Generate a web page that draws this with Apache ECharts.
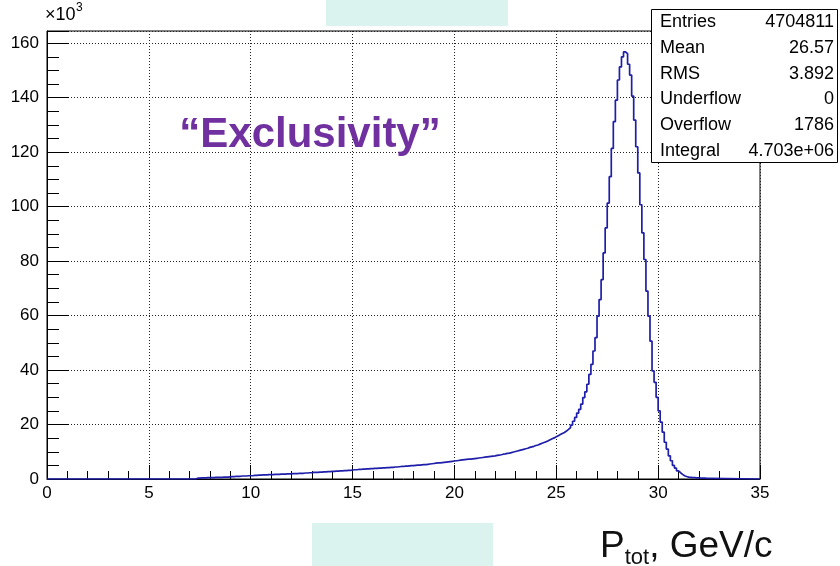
<!DOCTYPE html>
<html>
<head>
<meta charset="utf-8">
<script src="https://cdn.jsdelivr.net/npm/echarts@6/dist/echarts.min.js"></script>
<style>
  html, body { margin: 0; padding: 0; background: #fff; }
  #chart { width: 840px; height: 566px; }
</style>
</head>
<body>
<div id="chart"></div>
<script>
// histogram: bins of 0.1 GeV/c starting at binLow, counts in units of 10^3
const binLow = 7.3;
const binWidth = 0.1;
const counts = [
  0.3, 0.3, 0.4, 0.4, 0.4, 0.5, 0.5,                      // 7.3 - 7.9
  0.5, 0.5, 0.6, 0.6, 0.6, 0.6, 0.7, 0.7, 0.7, 0.8,       // 8
  0.9, 0.9, 1.0, 1.0, 1.0, 1.1, 1.1, 1.1, 1.2, 1.2,       // 9
  1.2, 1.3, 1.3, 1.4, 1.4, 1.5, 1.5, 1.5, 1.6, 1.6,       // 10
  1.6, 1.7, 1.7, 1.7, 1.8, 1.8, 1.8, 1.9, 1.9, 1.9,       // 11
  2.0, 2.0, 2.0, 2.1, 2.1, 2.1, 2.2, 2.2, 2.3, 2.3,       // 12
  2.4, 2.4, 2.4, 2.5, 2.5, 2.6, 2.6, 2.7, 2.7, 2.8,       // 13
  2.8, 2.9, 2.9, 3.0, 3.0, 3.1, 3.1, 3.2, 3.2, 3.3,       // 14
  3.4, 3.4, 3.5, 3.5, 3.6, 3.6, 3.7, 3.7, 3.8, 3.8,       // 15
  3.9, 3.9, 4.0, 4.0, 4.1, 4.1, 4.2, 4.2, 4.3, 4.3,       // 16
  4.4, 4.4, 4.5, 4.6, 4.6, 4.7, 4.7, 4.8, 4.9, 4.9,       // 17
  5.0, 5.1, 5.1, 5.2, 5.3, 5.3, 5.4, 5.5, 5.6, 5.7,       // 18
  5.8, 5.9, 5.9, 6.0, 6.1, 6.2, 6.3, 6.4, 6.5, 6.6,       // 19
  6.7, 6.8, 6.9, 7.0, 7.1, 7.2, 7.3, 7.3, 7.4, 7.5,       // 20
  7.6, 7.7, 7.8, 7.9, 8.0, 8.1, 8.2, 8.3, 8.4, 8.5,       // 21
  8.7, 8.8, 8.9, 9.1, 9.2, 9.4, 9.5, 9.7, 9.9, 10.1,      // 22
  10.3, 10.5, 10.7, 10.9, 11.1, 11.3, 11.6, 11.8, 12.0, 12.3, // 23
  12.5, 12.8, 13.1, 13.4, 13.7, 14.0, 14.4, 14.8, 15.1, 15.5, // 24
  15.9, 16.3, 16.7, 17.1, 17.6, 18.2, 18.9, 19.8, 21.2, 22.6, // 25
  24.2, 25.6, 27.5, 29.9, 32.0, 34.8, 38.4, 42.1, 47.0, 51.9, // 26
  59.8, 65.9, 73.2, 83.0, 92.2, 101.3, 111.0, 121.4, 131.2, 139.1, // 27
  146.5, 151.3, 155.0, 156.8, 156.2, 152.3, 148.3, 140.6, 131.8, 122.0, // 28
  112.4, 100.7, 90.4, 80.6, 69.0, 59.8, 50.6, 39.7, 35.5, 30.0, // 29
  25.0, 20.9, 17.2, 13.5, 11.0, 8.5, 6.7, 5.0, 4.0, 3.0,  // 30
  2.3, 1.7, 1.2, 0.9, 0.7, 0.6, 0.5, 0.5, 0.4, 0.4,       // 31
  0.3, 0.3, 0.3, 0.2, 0.2                                 // 32.0 - 32.4
];

const statsLabels = ['Entries', 'Mean', 'RMS', 'Underflow', 'Overflow', 'Integral'];
const statsValues = ['4704811', '26.57', '3.892', '0', '1786', '4.703e+06'];

const xMin = 0, xMax = 35, xStep = 5;
const yMin = 0, yMax = 164.5, yStep = 20;

const FONT = '"Liberation Sans", Arial, sans-serif';
const myChart = echarts.init(document.getElementById('chart'));

// step outline points at bin left edges
const histData = [[xMin, 0]];
counts.forEach((c, i) => {
  histData.push([+(binLow + i * binWidth).toFixed(2), c]);
});
histData.push([+(binLow + counts.length * binWidth).toFixed(2), 0]);
histData.push([xMax, 0]);

// stats box
const boxX = 651.5, boxY = 9.5, boxW = 186, boxH = 153, rowH = 25.8;
const statsGraphics = [{
  type: 'rect',
  z: 100,
  shape: { x: boxX, y: boxY, width: boxW, height: boxH },
  style: { fill: '#fff', stroke: '#000', lineWidth: 1 }
}];
statsLabels.forEach((lab, i) => {
  const cy = boxY + 12.5 + i * rowH;
  statsGraphics.push({
    type: 'text', z: 101,
    style: { x: 660, y: cy, text: lab, fill: '#000', font: '18px ' + FONT,
             textAlign: 'left', textVerticalAlign: 'middle' }
  });
  statsGraphics.push({
    type: 'text', z: 101,
    style: { x: 834, y: cy, text: statsValues[i], fill: '#000', font: '18px ' + FONT,
             textAlign: 'right', textVerticalAlign: 'middle' }
  });
});

const option = {
  animation: false,
  backgroundColor: '#fff',
  grid: {
    left: 47, right: 80, top: 31, bottom: 87,
    show: true, borderColor: '#000', borderWidth: 1
  },
  xAxis: {
    type: 'value',
    min: xMin, max: xMax, interval: xStep,
    axisLine: { lineStyle: { color: '#000', width: 1 } },
    axisTick: { inside: true, length: 14, lineStyle: { color: '#000' } },
    minorTick: { show: true, splitNumber: 5, length: 8, lineStyle: { color: '#000' } },
    axisLabel: { color: '#000', fontSize: 17, margin: 6, fontFamily: FONT },
    splitLine: { show: true, lineStyle: { color: '#222', type: [1, 2], width: 1 } }
  },
  yAxis: {
    type: 'value',
    min: yMin, max: yMax, interval: yStep,
    axisLine: { show: true, lineStyle: { color: '#000', width: 1 } },
    axisTick: { show: true, inside: true, length: 22, lineStyle: { color: '#000' } },
    minorTick: { show: true, splitNumber: 4, length: 12, lineStyle: { color: '#000' } },
    axisLabel: { color: '#000', fontSize: 17, margin: 8, showMaxLabel: false, fontFamily: FONT },
    splitLine: { show: true, lineStyle: { color: '#222', type: [1, 2], width: 1 } }
  },
  series: [{
    type: 'line',
    step: 'end',
    data: histData,
    showSymbol: false,
    lineStyle: { color: '#1e1eaa', width: 1.7 },
    z: 5
  }],
  graphic: [
    { type: 'rect', z: 50, shape: { x: 326, y: 0, width: 182, height: 26 }, style: { fill: '#dbf3ef' } },
    { type: 'rect', z: 50, shape: { x: 312, y: 523, width: 181, height: 43 }, style: { fill: '#dbf3ef' } },
    {
      type: 'text', z: 60,
      style: { x: 45, y: 6, text: '×10', fill: '#000', font: '18px ' + FONT }
    },
    {
      type: 'text', z: 60,
      style: { x: 76, y: 2, text: '3', fill: '#000', font: '12px ' + FONT }
    },
    {
      type: 'text', z: 60,
      style: {
        x: 310, y: 135,
        text: '\u201cExclusivity\u201d',
        fill: '#7030a0',
        font: 'bold 42px ' + FONT,
        textAlign: 'center', textVerticalAlign: 'middle'
      }
    },
    {
      type: 'text', z: 60,
      style: {
        x: 600, y: 525,
        text: '{p|P}{s|tot}{p|, GeV/c}',
        rich: {
          p: { fontSize: 37, fontFamily: FONT, fill: '#111', lineHeight: 40 },
          s: { fontSize: 22, fontFamily: FONT, fill: '#111', padding: [22, 0, 0, 0] }
        }
      }
    }
  ].concat(statsGraphics)
};

myChart.setOption(option);
</script>
</body>
</html>
